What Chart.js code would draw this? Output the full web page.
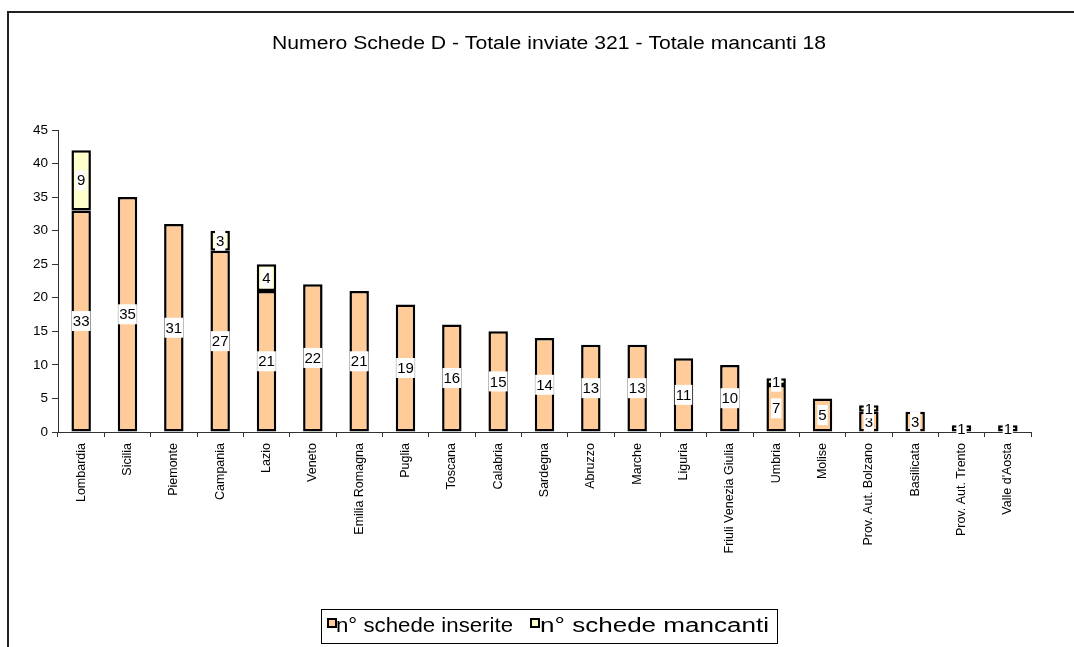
<!DOCTYPE html>
<html>
<head>
<meta charset="utf-8">
<script src="https://cdn.jsdelivr.net/npm/chart.js@4/dist/chart.umd.min.js"></script>
<style>
html,body{margin:0;padding:0;background:#fff;}
#wrap{width:1074px;height:647px;position:relative;}
</style>
</head>
<body>
<div id="wrap"><canvas id="c" width="1074" height="647"></canvas></div>
<script>
const categories = ["Lombardia","Sicilia","Piemonte","Campania","Lazio","Veneto","Emilia Romagna","Puglia","Toscana","Calabria","Sardegna","Abruzzo","Marche","Liguria","Friuli Venezia Giulia","Umbria","Molise","Prov. Aut. Bolzano","Basilicata","Prov. Aut. Trento","Valle d'Aosta"];
const inserite = [33,35,31,27,21,22,21,19,16,15,14,13,13,11,10,7,5,3,3,0,0];
const mancanti = [9,0,0,3,4,0,0,0,0,0,0,0,0,0,0,1,0,1,0,1,1];
const yTicks = [0,5,10,15,20,25,30,35,40,45];
const titleText = "Numero Schede D - Totale inviate 321 - Totale mancanti 18";
const seriesNames = ["n° schede inserite","n° schede mancanti"];
const colors = ["#FFCC99","#FFFFCC"];

const FONT = "Arial, 'Liberation Sans', sans-serif";

function stretchedText(ctx, txt, cx, cy, targetW, align){
  const w = ctx.measureText(txt).width;
  const sx = targetW / w;
  ctx.save();
  ctx.translate(cx, cy);
  ctx.scale(sx, 1);
  ctx.textAlign = align;
  ctx.fillText(txt, 0, 0);
  ctx.restore();
}

const decor = {
  id:'decor',
  beforeDraw(chart){
    const ctx = chart.ctx;
    ctx.save();
    ctx.fillStyle = '#fff';
    ctx.fillRect(0,0,chart.width,chart.height);
    ctx.strokeStyle = '#222';
    ctx.lineWidth = 2;
    ctx.strokeRect(8,12,1100,700);
    ctx.restore();
  },
  afterDraw(chart){
    const ctx = chart.ctx;
    ctx.save();
    // title
    ctx.fillStyle = '#000';
    ctx.font = "18px " + FONT;
    ctx.textBaseline = 'middle';
    stretchedText(ctx, titleText, 549, 44, 554, 'center');
    // data labels
    ctx.font = "15px " + FONT;
    chart.data.datasets.forEach((ds, di) => {
      const meta = chart.getDatasetMeta(di);
      meta.data.forEach((bar, i) => {
        const v = ds.data[i];
        if (!v) return;
        const yc = (bar.y + bar.base) / 2;
        const txt = String(v);
        const w = ctx.measureText(txt).width + 2;
        const h = 20;
        ctx.fillStyle = '#fff';
        ctx.fillRect(bar.x - w/2, yc - h/2, w, h);
        ctx.fillStyle = '#000';
        ctx.textAlign = 'center';
        ctx.textBaseline = 'middle';
        ctx.fillText(txt, bar.x, yc + 1);
      });
    });
    // legend
    const lx = 321, ly = 609, lw = 456, lh = 34;
    ctx.fillStyle = '#fff';
    ctx.fillRect(lx, ly, lw, lh);
    ctx.strokeStyle = '#000';
    ctx.lineWidth = 1;
    ctx.strokeRect(lx + 0.5, ly + 0.5, lw, lh);
    ctx.font = "20px " + FONT;
    ctx.textBaseline = 'middle';
    const items = [{x:328, tx:336, c:colors[0], t:seriesNames[0], tw:177},{x:531, tx:540, c:colors[1], t:seriesNames[1], tw:229}];
    items.forEach(it => {
      ctx.fillStyle = it.c;
      ctx.fillRect(it.x, ly + 10, 8, 8);
      ctx.strokeStyle = '#000';
      ctx.lineWidth = 2;
      ctx.strokeRect(it.x, ly + 10, 8, 8);
      ctx.fillStyle = '#000';
      stretchedText(ctx, it.t, it.tx, ly + 17, it.tw, 'left');
    });
    ctx.restore();
  }
};

new Chart(document.getElementById('c'), {
  type: 'bar',
  data: {
    labels: categories,
    datasets: [
      {label: seriesNames[0], data: inserite, backgroundColor: colors[0], borderColor: '#000', borderWidth: 2.5, borderSkipped: false, barPercentage: 0.42, categoryPercentage: 1.0},
      {label: seriesNames[1], data: mancanti, backgroundColor: colors[1], borderColor: '#000', borderWidth: 2.5, borderSkipped: false, barPercentage: 0.42, categoryPercentage: 1.0}
    ]
  },
  options: {
    responsive: false,
    animation: false,
    layout: {padding: {left: 8, right: 43, top: 130, bottom: 0}},
    plugins: {legend: {display: false}, title: {display: false}, tooltip: {enabled: false}},
    scales: {
      x: {
        stacked: true,
        grid: {display: true, drawOnChartArea: false, drawTicks: true, tickLength: 5, color: '#333', offset: true},
        border: {display: true, color: '#333', width: 1},
        ticks: {color: '#000', font: {family: FONT, size: 12.5}, maxRotation: 90, minRotation: 90, autoSkip: false, padding: 6},
        afterFit(scale){ scale.height = 215; }
      },
      y: {
        stacked: true,
        min: 0, max: 45,
        afterBuildTicks(scale){ scale.ticks = yTicks.map(v => ({value: v})); },
        grid: {display: true, drawOnChartArea: false, drawTicks: true, tickLength: 6, color: '#333'},
        border: {display: true, color: '#333', width: 1},
        ticks: {color: '#000', font: {family: FONT, size: 13.5}, padding: 4},
        afterFit(scale){ scale.width = 50; }
      }
    }
  },
  plugins: [decor]
});
</script>
</body>
</html>
